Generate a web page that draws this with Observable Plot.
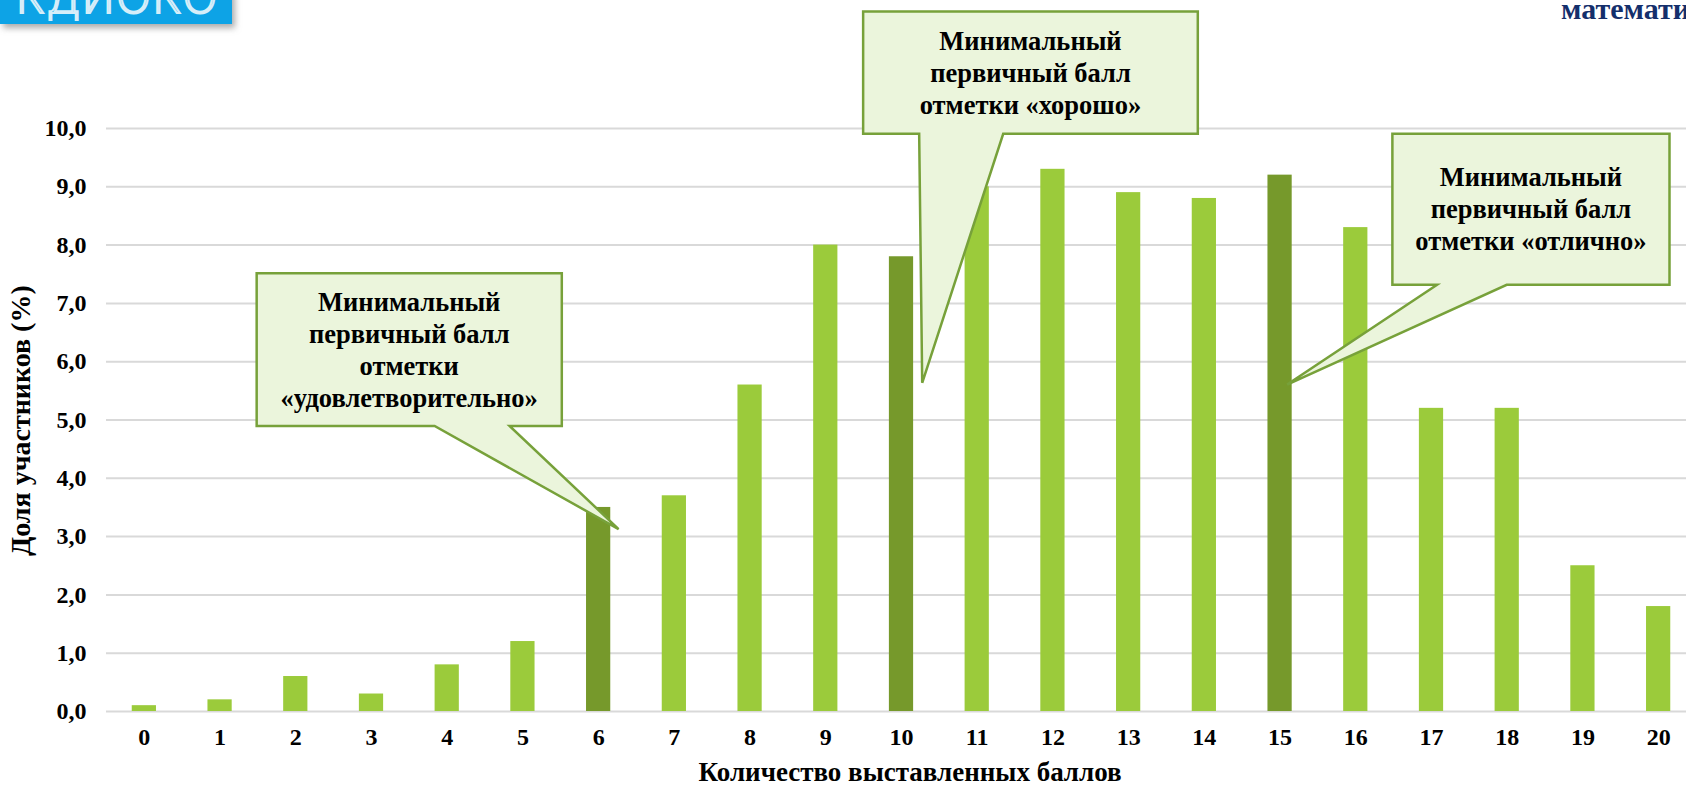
<!DOCTYPE html>
<html><head><meta charset="utf-8">
<script src="https://cdn.jsdelivr.net/npm/d3@7"></script>
<script src="https://cdn.jsdelivr.net/npm/@observablehq/plot@0.6"></script>
<style>
html,body{margin:0;padding:0;background:#fff;overflow:hidden;}
#wrap{position:relative;width:1686px;height:787px;overflow:hidden;}
#wrap > svg{position:absolute;left:0;top:0;max-width:none !important;width:1696px !important;height:787px !important;}
</style></head><body><div id="wrap"></div>
<script>
// ---- data ----
const scores = ["0","1","2","3","4","5","6","7","8","9","10","11","12","13","14","15","16","17","18","19","20"];
const shares = [0.1,0.2,0.6,0.3,0.8,1.2,3.5,3.7,5.6,8.0,7.8,9.0,9.3,8.9,8.8,9.2,8.3,5.2,5.2,2.5,1.8];
const thresholdScores = ["6","10","15"];
const yTicks = [0,1,2,3,4,5,6,7,8,9,10];
const yTitle = "Доля участников (%)";
const xTitle = "Количество выставленных баллов";
const calloutLines = [
  ["Минимальный","первичный балл","отметки","«удовлетворительно»"],
  ["Минимальный","первичный балл","отметки «хорошо»"],
  ["Минимальный","первичный балл","отметки «отлично»"]
];
const logoText = "КДИОКО";
const headerText = "математика";

// ---- layout / style ----
const LIGHT = "#9bcb3b", DARK = "#76992b";
const FONT = "'Liberation Serif','Times New Roman',serif";
const calloutGeom = [
  {box:[1.49,5.52,7.51,4.89], base:[3.84,4.83], tip:[6.27,3.12]},
  {box:[9.50,13.92,12.0,9.90], base:[10.24,11.35], tip:[10.28,5.63]},
  {box:[16.49,20.15,9.90,7.31], base:[17.08,18.0], tip:[15.1,5.6]}
];

const data = scores.map((s,i)=>({score:s, share:shares[i], threshold: thresholdScores.includes(s)}));

const plot = Plot.plot({
  width: 1696, height: 787,
  marginTop: 128, marginBottom: 76, marginLeft: 106, marginRight: 0,
  style: {fontFamily: FONT, fontWeight: "bold", fontSize: "24px", color: "#000", background: "transparent", overflow: "visible", maxWidth: "none"},
  x: {domain: scores, paddingInner: 0.68, paddingOuter: 0.34, round: false, label: null, tickSize: 0, tickPadding: 16},
  y: {domain: [0,10], ticks: yTicks, tickFormat: d => d.toFixed(1).replace(".", ","), label: null, tickSize: 0, tickPadding: 20},
  marks: [
    Plot.ruleY(yTicks, {stroke: "#d9d9d9", strokeWidth: 2}),
    Plot.barY(data.filter(d => !d.threshold), {x: "score", y: "share", fill: LIGHT}),
    Plot.barY(data.filter(d => d.threshold), {x: "score", y: "share", fill: DARK})
  ]
});
document.getElementById("wrap").appendChild(plot);

const xs = plot.scale("x"), ys = plot.scale("y");
const bx = d3.scaleBand().domain(scores).range(xs.range).paddingInner(0.68).paddingOuter(0.34);
const x0 = (xs.apply ? xs.apply(scores[0]) : bx(scores[0])) + (xs.bandwidth ?? bx.bandwidth())/2;
const step = xs.step ?? bx.step();
const px = i => x0 + i*step;
const py = v => ys.apply ? ys.apply(v) : d3.scaleLinear().domain(ys.domain).range(ys.range)(v);

const svg = d3.select(plot);

// axis titles
svg.append("text").attr("transform", `translate(24,${py(4.98)}) rotate(-90)`)
  .attr("text-anchor","middle").attr("dominant-baseline","middle")
  .style("font", `bold 28px ${FONT}`).text(yTitle);
svg.append("text").attr("x", px(10.12)).attr("y", 775)
  .attr("text-anchor","middle").attr("dominant-baseline","middle")
  .style("font", `bold 27px ${FONT}`).text(xTitle);

// callouts
calloutGeom.forEach((g,k) => {
  const [a,b,t,bt] = g.box;
  const X0 = px(a), X1 = px(b), Y0 = py(t), Y1 = py(bt);
  const B1 = px(g.base[0]), B2 = px(g.base[1]);
  const TX = px(g.tip[0]), TY = py(g.tip[1]);
  const p = `M${X0},${Y0}L${X1},${Y0}L${X1},${Y1}L${B2},${Y1}L${TX},${TY}L${B1},${Y1}L${X0},${Y1}Z`;
  svg.append("path").attr("d", p).attr("fill","#ebf5dc").attr("stroke","#77a13a").attr("stroke-width",2.5).attr("stroke-linejoin","miter");
  const lines = calloutLines[k];
  const lh = 32, cy = (Y0+Y1)/2, cx = (X0+X1)/2;
  lines.forEach((ln,j) => {
    svg.append("text").attr("x", cx).attr("y", cy + (j - (lines.length-1)/2)*lh + 3)
      .attr("text-anchor","middle").attr("dominant-baseline","middle")
      .style("font", `bold 26.5px ${FONT}`).attr("fill","#000").text(ln);
  });
});

// slide header fragments
const defs = svg.append("defs");
const f = defs.append("filter").attr("id","sh").attr("x","-10%").attr("y","-50%").attr("width","130%").attr("height","250%");
f.append("feDropShadow").attr("dx",3).attr("dy",4).attr("stdDeviation",3).attr("flood-color","#888").attr("flood-opacity",0.7);
svg.append("rect").attr("x",0).attr("y",-10).attr("width",232).attr("height",34).attr("fill","#0aa3e6").attr("filter","url(#sh)");
svg.append("text").attr("x",15).attr("y",13).attr("text-anchor","start")
  .style("font","300 44px 'DejaVu Sans', sans-serif")
  .attr("fill","#0aa3e6").attr("stroke","#d6eef9").attr("stroke-width",2)
  .attr("textLength",203).attr("lengthAdjust","spacingAndGlyphs").text(logoText);
svg.append("text").attr("x",1561).attr("y",19).attr("text-anchor","start")
  .style("font",`bold 30px ${FONT}`).attr("fill","#142f6c").text(headerText);
</script></body></html>
